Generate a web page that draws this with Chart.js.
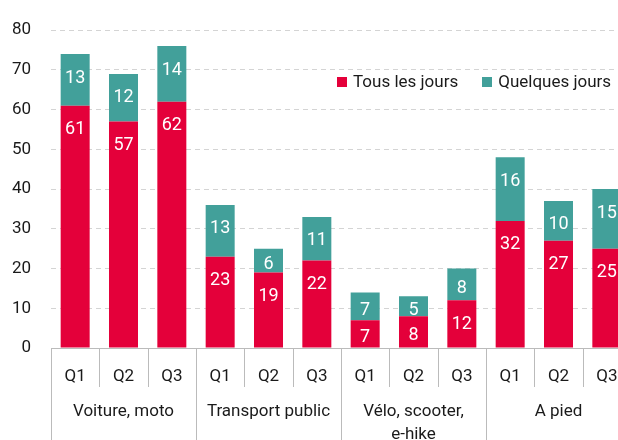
<!DOCTYPE html>
<html lang="fr">
<head>
<meta charset="UTF-8">
<title>Mode de transport par trimestre</title>
<script src="https://cdn.jsdelivr.net/npm/chart.js"></script>
<style>
  html, body { margin: 0; padding: 0; background: #fff; overflow: hidden; width: 618px; height: 440px; }
  #wrap { position: relative; width: 640px; height: 440px; }
  #legend { position: absolute; top: 71px; left: 337px; font: 17px Roboto, sans-serif; color: #1a1a1a; white-space: nowrap; }
  #legend span.box { display: inline-block; width: 10px; height: 10px; margin-right: 6px; vertical-align: 0px; }
  #legend span.item { margin-right: 24px; }
</style>
</head>
<body>
<div id="wrap">
  <canvas id="chart" width="640" height="440"></canvas>
  <div id="legend"></div>
</div>
<script>
// données
const groupes = [['Voiture, moto'], ['Transport public'], ['Vélo, scooter,', 'e-hike'], ['A pied']];
const trimestres = ['Q1', 'Q2', 'Q3'];
const tousLesJours = [61, 57, 62, 23, 19, 22, 7, 8, 12, 32, 27, 25];
const quelquesJours = [13, 12, 14, 13, 6, 11, 7, 5, 8, 16, 10, 15];
const seriesNoms = ['Tous les jours', 'Quelques jours'];
const couleurs = ['#e4003a', '#42a09a'];

const labels = [];
groupes.forEach(() => trimestres.forEach(q => labels.push(q)));

// légende html
const leg = document.getElementById('legend');
seriesNoms.forEach((nom, i) => {
  leg.innerHTML += '<span class="item"><span class="box" style="background:' + couleurs[i] + '"></span>' + nom + '</span>';
});

// étiquettes de valeurs dans les barres
const valeursPlugin = {
  id: 'valeurs',
  afterDatasetsDraw(chart) {
    const ctx = chart.ctx;
    ctx.save();
    ctx.fillStyle = '#fff';
    ctx.font = '18px Roboto, sans-serif';
    ctx.textAlign = 'center';
    ctx.textBaseline = 'middle';
    chart.data.datasets.forEach((ds, di) => {
      chart.getDatasetMeta(di).data.forEach((bar, i) => {
        const top = bar.y, bottom = bar.base;
        const y = Math.min(top + 24, (top + bottom) / 2 + 4);
        ctx.fillText(ds.data[i], bar.x, y);
      });
    });
    ctx.restore();
  }
};

// axe x à deux niveaux
const axePlugin = {
  id: 'axeGroupes',
  afterDraw(chart) {
    const ctx = chart.ctx;
    const x = chart.scales.x;
    const yAxe = chart.chartArea.bottom;
    const step = x.getPixelForValue(1) - x.getPixelForValue(0);
    ctx.save();
    ctx.strokeStyle = '#bbb';
    ctx.lineWidth = 1;
    ctx.beginPath();
    ctx.moveTo(chart.chartArea.left, yAxe + 0.5);
    ctx.lineTo(chart.chartArea.right, yAxe + 0.5);
    for (let i = 0; i <= labels.length; i++) {
      const px = Math.round(x.getPixelForValue(i) - step / 2) + 0.5;
      ctx.moveTo(px, yAxe);
      ctx.lineTo(px, i % trimestres.length === 0 ? chart.height : yAxe + 39);
    }
    ctx.stroke();
    ctx.fillStyle = '#1a1a1a';
    ctx.font = '17px Roboto, sans-serif';
    ctx.textAlign = 'center';
    ctx.textBaseline = 'middle';
    groupes.forEach((g, gi) => {
      const cx = (x.getPixelForValue(gi * 3) + x.getPixelForValue(gi * 3 + 2)) / 2;
      g.forEach((ligne, li) => ctx.fillText(ligne, cx, yAxe + 64 + li * 23));
    });
    ctx.restore();
  }
};

new Chart(document.getElementById('chart'), {
  type: 'bar',
  data: {
    labels: labels,
    datasets: [
      { label: seriesNoms[0], data: tousLesJours, backgroundColor: couleurs[0] },
      { label: seriesNoms[1], data: quelquesJours, backgroundColor: couleurs[1] }
    ]
  },
  options: {
    responsive: false,
    animation: false,
    layout: { padding: { top: 15, right: 9, left: 0, bottom: 0 } },
    barPercentage: 0.6,
    categoryPercentage: 1,
    plugins: { legend: { display: false }, tooltip: { enabled: false } },
    scales: {
      x: {
        stacked: true,
        grid: { display: false },
        border: { display: false },
        ticks: { color: '#1a1a1a', font: { size: 17, family: 'Roboto' }, padding: 11, maxRotation: 0 },
        afterFit: s => { s.height = 92; }
      },
      y: {
        stacked: true,
        min: 0, max: 80,
        ticks: { stepSize: 10, color: '#1a1a1a', font: { size: 17, family: 'Roboto' }, padding: 20 },
        grid: { color: '#d4d4d4', drawTicks: false },
        border: { display: false, dash: [5, 4] },
        afterFit: s => { s.width = 51; }
      }
    }
  },
  plugins: [valeursPlugin, axePlugin]
});
</script>
</body>
</html>
